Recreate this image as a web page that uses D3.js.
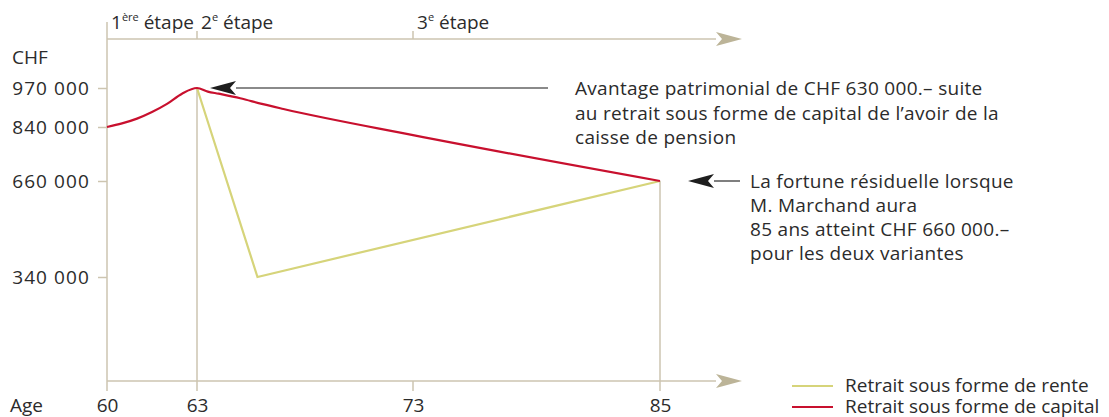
<!DOCTYPE html>
<html>
<head>
<meta charset="utf-8">
<script src="https://cdn.jsdelivr.net/npm/d3@7"></script>
<style>
  body { margin: 0; background: #fff; }
  svg text { font-family: "Open Sans", sans-serif; fill: #2b2b2b; }
</style>
</head>
<body>
<svg width="1109" height="417"></svg>
<script>
// data
const ages = [60, 63, 73, 85];
const chf_ticks = [340000, 660000, 840000, 970000];
const stages = [
  { age: 60, num: "1", sup: "ère" },
  { age: 63, num: "2", sup: "e" },
  { age: 73, num: "3", sup: "e" }
];
const capital_ages = [60, 60.5, 61, 61.5, 62, 62.5, 63, 63.5, 64, 65, 66, 67, 73, 85];
const capital_vals = [840000, 852000, 868000, 890000, 917000, 951000, 970000, 958000, 951000, 936000, 917000, 900000, 813000, 660000];
const rente_ages = [63, 65.8, 85];
const rente_vals = [970000, 340000, 660000];
const legend = [
  { label: "Retrait sous forme de rente", key: "rente" },
  { label: "Retrait sous forme de capital", key: "capital" }
];
const note_top = ["Avantage patrimonial de CHF 630 000.– suite", "au retrait sous forme de capital de l’avoir de la", "caisse de pension"];
const note_end = ["La fortune résiduelle lorsque", "M. Marchand aura", "85 ans atteint CHF 660 000.–", "pour les deux variantes"];

const col_axis = "#cdc5b0";
const col_head = "#bcb498";
const color = { rente: "#d6d47a", capital: "#c8102e" };
const fs = 19;

const svg = d3.select("svg");

// the age axis is not even: each stretch has its own width
const x = d3.scaleLinear().domain(ages).range([107, 197, 413, 660]);
const y = d3.scaleLinear().domain([340000, 970000]).range([277, 88]);
const top_y = 39, bottom_y = 381;

const fmt = d3.formatLocale({ thousands: " ", grouping: [3], decimal: ",", currency: ["", ""] }).format(",d");

// arrowheads
const defs = svg.append("defs");
const head = (id, fill) => defs.append("marker")
    .attr("id", id)
    .attr("viewBox", "0 -7 26 14")
    .attr("refX", 0)
    .attr("markerWidth", 26)
    .attr("markerHeight", 14)
    .attr("markerUnits", "userSpaceOnUse")
    .attr("orient", "auto")
    .append("path")
      .attr("fill", fill)
      .attr("d", "M0,-7L26,0L0,7L6,0Z");
head("axis-head", col_head);
head("note-head", "#1e1e1e");

// guide lines
const g_axes = svg.append("g").attr("stroke", col_axis).attr("stroke-width", 1.5);
g_axes.append("line").attr("x1", x(60)).attr("x2", x(60)).attr("y1", 22).attr("y2", bottom_y + 10);
g_axes.append("line").attr("x1", x(63)).attr("x2", x(63)).attr("y1", y(970000)).attr("y2", bottom_y + 10);
g_axes.append("line").attr("x1", x(85)).attr("x2", x(85)).attr("y1", y(660000)).attr("y2", bottom_y + 10);
g_axes.append("line").attr("x1", x(73)).attr("x2", x(73)).attr("y1", bottom_y).attr("y2", bottom_y + 10);
g_axes.selectAll(".stage-tick")
  .data(stages.slice(1))
  .join("line")
    .attr("x1", d => x(d.age)).attr("x2", d => x(d.age))
    .attr("y1", top_y - 8).attr("y2", top_y);
g_axes.append("line").attr("x1", x(60)).attr("x2", 716).attr("y1", top_y).attr("y2", top_y)
  .attr("marker-end", "url(#axis-head)");
g_axes.append("line").attr("x1", x(60)).attr("x2", 716).attr("y1", bottom_y).attr("y2", bottom_y)
  .attr("marker-end", "url(#axis-head)");

// stage labels
const st = svg.append("g").selectAll("text")
  .data(stages)
  .join("text")
    .attr("x", d => x(d.age) + 4)
    .attr("y", 29)
    .attr("font-size", fs);
st.append("tspan").text(d => d.num);
st.append("tspan").attr("font-size", 11).attr("dy", -8).text(d => d.sup);
st.append("tspan").attr("dy", 8).text(" étape");

// y axis
const y_axis = svg.append("g")
  .attr("transform", `translate(${x(60)},0)`)
  .call(d3.axisLeft(y).tickValues(chf_ticks).tickSize(9).tickPadding(8).tickFormat(fmt));
y_axis.select(".domain").remove();
y_axis.selectAll("line").attr("stroke", col_axis).attr("stroke-width", 1.5);
y_axis.selectAll("text").attr("font-size", fs).attr("font-family", null)
  .attr("fill", "#2b2b2b").attr("letter-spacing", 1.1);
svg.append("text").attr("x", 12).attr("y", 64).attr("font-size", fs).text("CHF");

// x axis labels
const x_axis = svg.append("g")
  .attr("transform", `translate(0,${bottom_y})`)
  .call(d3.axisBottom(x).tickValues(ages).tickSize(0).tickPadding(18).tickFormat(d3.format("d")));
x_axis.select(".domain").remove();
x_axis.selectAll("text").attr("font-size", fs).attr("font-family", null).attr("fill", "#2b2b2b");
svg.append("text").attr("x", 10).attr("y", 412).attr("font-size", fs).text("Age");

// series
const line = d3.line().x(d => x(d[0])).y(d => y(d[1]));
svg.append("path")
  .datum(d3.zip(rente_ages, rente_vals))
  .attr("fill", "none").attr("stroke", color.rente).attr("stroke-width", 2.2)
  .attr("d", line);
svg.append("path")
  .datum(d3.zip(capital_ages, capital_vals))
  .attr("fill", "none").attr("stroke", color.capital).attr("stroke-width", 2.2)
  .attr("stroke-linejoin", "round")
  .attr("d", line.curve(d3.curveMonotoneX));

// notes
svg.append("line")
  .attr("x1", 548).attr("x2", 236).attr("y1", y(970000)).attr("y2", y(970000))
  .attr("stroke", "#8a8a8a").attr("stroke-width", 2.2)
  .attr("marker-end", "url(#note-head)");
svg.append("line")
  .attr("x1", 740).attr("x2", 714).attr("y1", y(660000)).attr("y2", y(660000))
  .attr("stroke", "#2b2b2b").attr("stroke-width", 1.2)
  .attr("marker-end", "url(#note-head)");

svg.append("g").selectAll("text")
  .data(note_top)
  .join("text")
    .attr("x", 575)
    .attr("y", (d, i) => y(970000) + 7 + i * 24.5)
    .attr("font-size", fs)
    .attr("letter-spacing", 0.3)
    .text(d => d);
svg.append("g").selectAll("text")
  .data(note_end)
  .join("text")
    .attr("x", 750)
    .attr("y", (d, i) => y(660000) + 7 + i * 24)
    .attr("font-size", fs)
    .attr("letter-spacing", 0.3)
    .text(d => d);

// legend
const lg = svg.append("g").selectAll("g")
  .data(legend)
  .join("g")
    .attr("transform", (d, i) => `translate(792,${386 + i * 21})`);
lg.append("line").attr("x2", 41).attr("stroke", d => color[d.key]).attr("stroke-width", 2.2);
lg.append("text").attr("x", 53).attr("y", 6).attr("font-size", fs).text(d => d.label);
</script>
</body>
</html>
